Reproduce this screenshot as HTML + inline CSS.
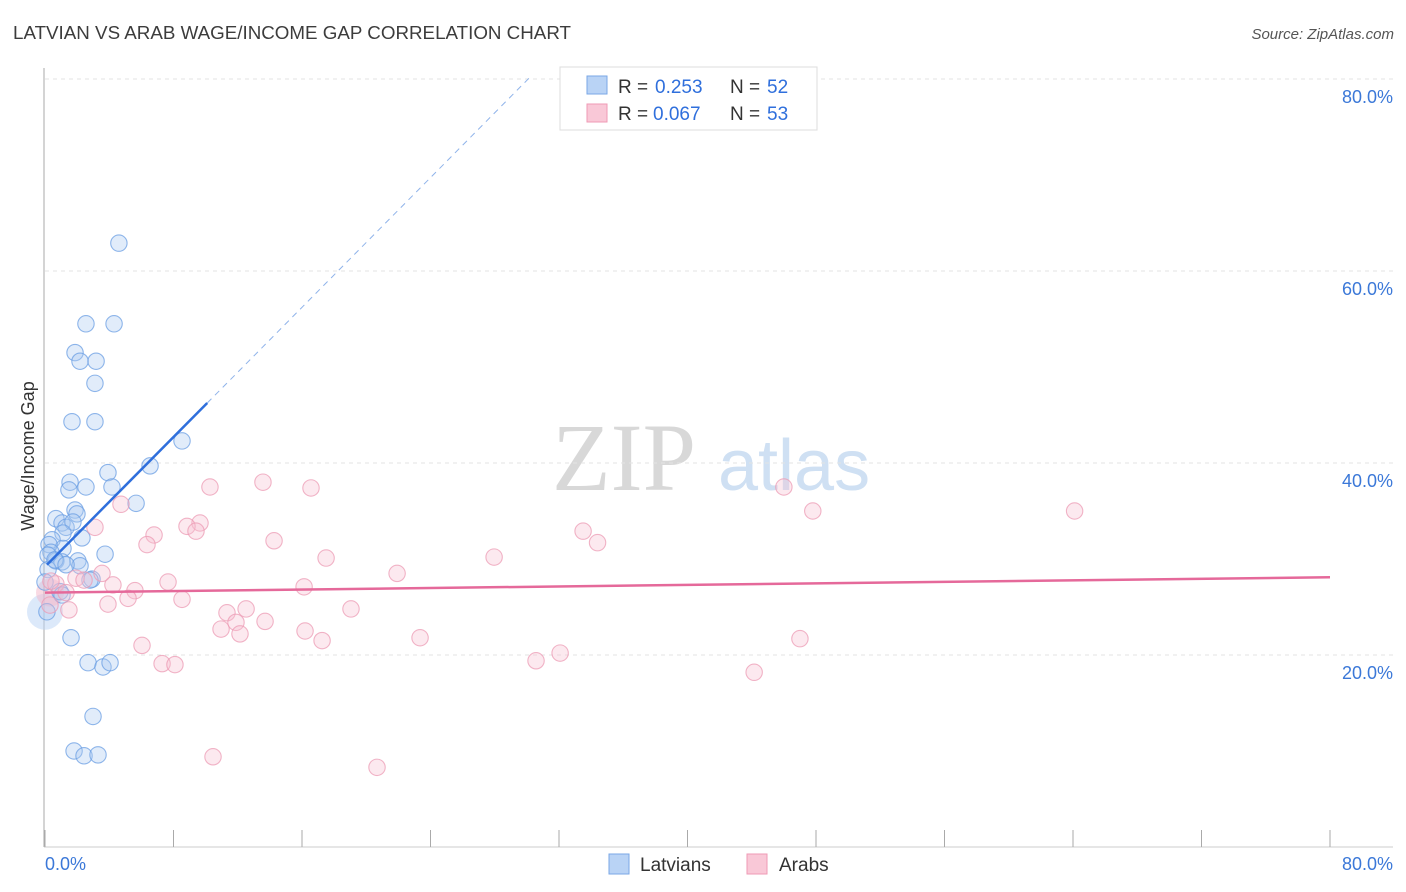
<!DOCTYPE html>
<html><head><meta charset="utf-8"><style>
body{margin:0;background:#fff;font-family:"Liberation Sans",sans-serif}
svg{display:block}
</style></head><body>
<svg id="chart" width="1406" height="892" viewBox="0 0 1406 892" xmlns="http://www.w3.org/2000/svg">
<text x="13" y="39" font-size="18" fill="#3c3c3c" textLength="558" lengthAdjust="spacingAndGlyphs">LATVIAN VS ARAB WAGE/INCOME GAP CORRELATION CHART</text>
<text x="1394" y="39" font-size="15" fill="#555" font-style="italic" text-anchor="end">Source: ZipAtlas.com</text>
<g>
<text x="552" y="490" font-size="96" fill="#d8d8d8" font-family="Liberation Serif,serif">ZIP</text>
<text x="718" y="490" font-size="72" fill="#cfe0f3">atlas</text>
</g>
<g id="grid"></g>
<g id="axes"></g>
<g id="points"></g>
<g id="trends"></g>
<text transform="translate(34,456) rotate(-90)" font-size="18" fill="#333" text-anchor="middle">Wage/Income Gap</text>
<g>
<rect x="560" y="67" width="257" height="63" fill="#fff" stroke="#ddd"/>
<rect x="587" y="76" width="20" height="18" fill="#b9d3f5" stroke="#7aa7e6"/>
<rect x="587" y="104" width="20" height="18" fill="#f9c8d7" stroke="#ef9ab4"/>
<text x="618" y="93" font-size="19" fill="#333">R =</text>
<text x="655" y="93" font-size="19" fill="#2f6fdc">0.253</text>
<text x="730" y="93" font-size="19" fill="#333">N =</text>
<text x="767" y="93" font-size="19" fill="#2f6fdc">52</text>
<text x="618" y="120" font-size="19" fill="#333">R =</text>
<text x="653" y="120" font-size="19" fill="#2f6fdc">0.067</text>
<text x="730" y="120" font-size="19" fill="#333">N =</text>
<text x="767" y="120" font-size="19" fill="#2f6fdc">53</text>
</g>
<g>
<rect x="609" y="854" width="20" height="20" fill="#b9d3f5" stroke="#7aa7e6"/>
<text x="640" y="871" font-size="19" fill="#333">Latvians</text>
<rect x="747" y="854" width="20" height="20" fill="#f9c8d7" stroke="#ef9ab4"/>
<text x="779" y="871" font-size="19" fill="#333">Arabs</text>
</g>
</svg>
<script>
const yTicks=[20,40,60,80];
const yTickLabels=["20.0%","40.0%","60.0%","80.0%"];
const xTickLabels=["0.0%","80.0%"];
const latX=[4.6,2.55,4.3,1.87,2.18,3.18,3.11,1.68,3.11,8.53,6.54,3.92,1.56,1.49,2.55,4.17,5.67,1.87,1.99,0.68,1.06,1.31,1.74,1.12,2.3,0.44,1.12,0.25,0.37,3.74,2.05,0.68,1.06,2.18,0.19,2.93,2.8,0.93,1.06,0.12,1.62,2.68,3.61,4.05,2.99,1.81,2.43,3.3,0.19,0.62,0,1.31];
const latY=[62.9,54.5,54.5,51.5,50.6,50.6,48.3,44.3,44.3,42.3,39.7,39.0,38.0,37.2,37.5,37.5,35.8,35.1,34.7,34.2,33.75,33.3,33.85,32.7,32.2,32.0,31.1,31.5,30.7,30.5,29.8,29.8,29.7,29.3,28.9,27.9,27.8,26.6,26.25,24.5,21.8,19.2,18.75,19.2,13.6,10.0,9.5,9.6,30.4,29.9,27.6,29.4];
const arabX=[13.57,10.27,16.56,46.0,64.1,47.8,4.73,3.11,6.79,9.65,8.84,9.4,33.5,34.4,6.35,14.26,17.5,27.96,21.92,3.55,1.93,2.43,4.23,7.66,5.6,16.13,0.68,0.37,1.31,8.53,5.17,3.92,1.49,11.33,12.52,19.05,11.89,13.7,10.96,12.14,16.19,17.25,23.35,47.0,6.04,30.57,32.07,7.29,8.09,44.15,10.46,20.67,0.31];
const arabY=[38.0,37.5,37.4,37.5,35.0,35.0,35.7,33.3,32.5,33.75,33.4,32.9,32.9,31.7,31.5,31.9,30.1,30.2,28.5,28.5,28.0,27.8,27.3,27.6,26.7,27.1,27.4,27.7,26.5,25.8,25.9,25.3,24.7,24.4,24.8,24.8,23.4,23.5,22.7,22.2,22.5,21.5,21.8,21.7,21.0,19.4,20.2,19.1,19.0,18.2,9.4,8.3,25.2];
const latTrend=[[0.12,29.4],[10.1,46.25]];
const latTrendExt=[[10.1,46.25],[30.2,80.2]];
const arabTrend=[[0,26.5],[80,28.1]];
const X=v=>45+v*(1285/80), Y=v=>847-v*9.6;
const NS="http://www.w3.org/2000/svg";
function mk(parent,tag,attrs){const e=document.createElementNS(NS,tag);for(const k in attrs)e.setAttribute(k,attrs[k]);document.getElementById(parent).appendChild(e);return e;}
yTicks.forEach((t,i)=>{
 const l=mk('grid','line',{x1:45,x2:1393,y1:Y(t),y2:Y(t),stroke:'#e3e3e3','stroke-dasharray':'4,4'});
 
 
 const tx=mk('grid','text',{x:1393,y:Y(t)+24,'font-size':18,fill:'#3b78d8','text-anchor':'end'});
 tx.textContent=yTickLabels[i];
 
 
});
let a=mk('axes','line',{x1:44,x2:44,y1:68,y2:847,stroke:'#aaa'});


a=mk('axes','line',{x1:44,x2:1393,y1:847,y2:847,stroke:'#ccc'});


for(let i=0;i<=10;i++){
 const t=mk('axes','line',{x1:X(i*8),x2:X(i*8),y1:830,y2:847,stroke:'#aaa'});
 
 
}
let xl=mk('axes','text',{x:45,y:870,'font-size':18,fill:'#3b78d8'});xl.textContent=xTickLabels[0];


xl=mk('axes','text',{x:1393,y:870,'font-size':18,fill:'#3b78d8','text-anchor':'end'});xl.textContent=xTickLabels[1];


function pts(xs,ys,fill,stroke,name){xs.forEach((x,i)=>{
 const c=mk('points','circle',{cx:X(x),cy:Y(ys[i]),r:8.2,fill:fill,'fill-opacity':0.35,stroke:stroke,'stroke-opacity':0.75,'stroke-width':1.1});
 
 
});}
mk('points','circle',{cx:45,cy:Y(24.5),r:18,fill:'#b9d3f5','fill-opacity':0.5});
mk('points','circle',{cx:50,cy:Y(26.5),r:14,fill:'#f4b5c8','fill-opacity':0.5});
pts(latX,latY,'#a9c8f2','#6a9de3','latvian-point');
pts(arabX,arabY,'#f7bfd0','#ec9bb4','arab-point');
let tl=mk('trends','line',{x1:X(latTrend[0][0]),y1:Y(latTrend[0][1]),x2:X(latTrend[1][0]),y2:Y(latTrend[1][1]),stroke:'#2f6fdc','stroke-width':2.5});


tl=mk('trends','line',{x1:X(latTrendExt[0][0]),y1:Y(latTrendExt[0][1]),x2:X(latTrendExt[1][0]),y2:Y(latTrendExt[1][1]),stroke:'#8fb3ea','stroke-width':1,'stroke-dasharray':'6,5'});


tl=mk('trends','line',{x1:X(arabTrend[0][0]),y1:Y(arabTrend[0][1]),x2:X(arabTrend[1][0]),y2:Y(arabTrend[1][1]),stroke:'#e5699a','stroke-width':2.5});


</script>
</body></html>
